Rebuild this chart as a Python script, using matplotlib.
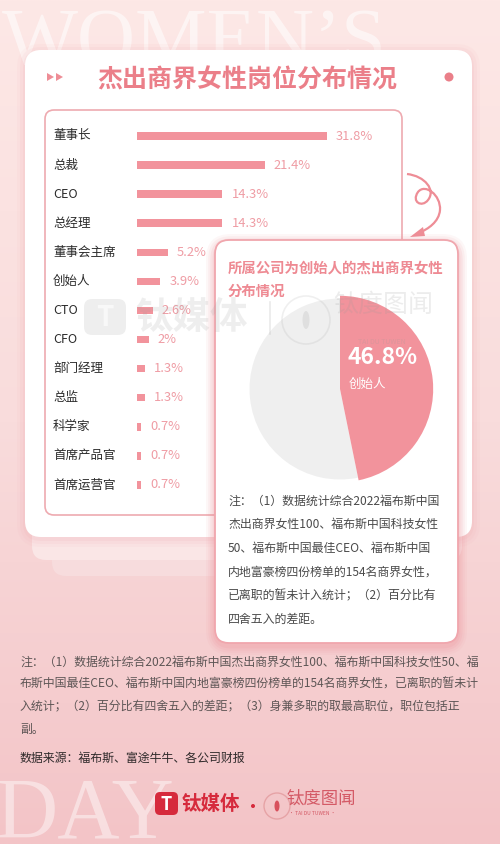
import numpy as np
import matplotlib
matplotlib.use("Agg")
import matplotlib.pyplot as plt
from matplotlib.patches import FancyBboxPatch, Polygon, Circle, Ellipse, PathPatch
from matplotlib.path import Path
from matplotlib.colors import to_rgb
import matplotlib.transforms as mtrans

plt.rcParams['font.family'] = ['Noto Sans CJK SC', 'DejaVu Sans']

# ---------------- data ----------------
title = "杰出商界女性岗位分布情况"
categories = ["董事长", "总裁", "CEO", "总经理", "董事会主席", "创始人", "CTO", "CFO",
              "部门经理", "总监", "科学家", "首席产品官", "首席运营官"]
shares = [31.8, 21.4, 14.3, 14.3, 5.2, 3.9, 2.6, 2.0, 1.3, 1.3, 0.7, 0.7, 0.7]

pie_title = ["所属公司为创始人的杰出商界女性", "分布情况"]
pie_labels = ["创始人", "其他"]
pie_values = [46.8, 53.2]

pie_note = ["注：（1）数据统计综合2022福布斯中国",
            "杰出商界女性100、福布斯中国科技女性",
            "50、福布斯中国最佳CEO、福布斯中国",
            "内地富豪榜四份榜单的154名商界女性，",
            "已离职的暂未计入统计；（2）百分比有",
            "四舍五入的差距。"]
bottom_note = ["注：（1）数据统计综合2022福布斯中国杰出商界女性100、福布斯中国科技女性50、福",
               "布斯中国最佳CEO、福布斯中国内地富豪榜四份榜单的154名商界女性，已离职的暂未计",
               "入统计；（2）百分比有四舍五入的差距；（3）身兼多职的取最高职位，职位包括正",
               "副。"]
source = "数据来源：福布斯、富途牛牛、各公司财报"

# ---------------- colours ----------------
PINK = "#f2939c"
PINK_TXT = "#ef9ca4"
TITLE_PINK = "#eb7f89"
BORDER = "#eeaab0"

W, H = 500, 844
fig = plt.figure(figsize=(W / 100, H / 100), dpi=100)

def fax(left, top, width, height, z):
    a = fig.add_axes([left / W, (H - top - height) / H, width / W, height / H])
    a.set_zorder(z)
    return a

# ---------------- background axes ----------------
bg = fig.add_axes([0, 0, 1, 1])
bg.set_zorder(0)
bg.set_xlim(0, W)
bg.set_ylim(H, 0)
bg.axis("off")

top_c = np.array(to_rgb("#fde8e6"))
mid_c = np.array(to_rgb("#f9dcdc"))
bot_c = np.array(to_rgb("#f3c4c7"))
t = np.linspace(0, 1, 400)[:, None]
grad = np.where(t < 0.5, top_c + (mid_c - top_c) * (t / 0.5), mid_c + (bot_c - mid_c) * ((t - 0.5) / 0.5))
grad = np.repeat(grad[:, None, :], 2, axis=1)
bg.imshow(grad, extent=(0, W, H, 0), origin="upper", aspect="auto", zorder=0)

bg.text(2, 64, "WOMEN\u2019S", fontsize=58, family="Liberation Serif", color="white",
        alpha=0.55, ha="left", va="baseline", zorder=1)
bg.text(-4, 838, "DAY", fontsize=62, family="Liberation Serif", color="white",
        alpha=0.45, ha="left", va="baseline", zorder=1)

def rbox(ax, x, y, w, h, r, fc, ec="none", lw=0, z=2, alpha=1.0):
    p = FancyBboxPatch((x, y), w, h, boxstyle=f"round,pad=0,rounding_size={r}",
                       fc=fc, ec=ec, lw=lw, zorder=z, alpha=alpha)
    ax.add_patch(p)
    return p

# stacked cards behind main card
rbox(bg, 52, 480, 400, 96, 14, "#f7dcdd", z=2)
rbox(bg, 32, 470, 430, 90, 14, "#fae6e6", z=2.2)
# shadow of main card
for i, a in enumerate([0.06, 0.08, 0.10]):
    d = 8 - 3 * i
    rbox(bg, 25 - d, 50 - d + 2, 447 + 2 * d, 487 + 2 * d, 16 + d, "#ee9ea6", z=2.4, alpha=a)
rbox(bg, 25, 50, 447, 487, 16, "white", z=3)

# title decorations
for x0 in (47, 56):
    bg.add_patch(Polygon([[x0, 73], [x0, 81], [x0 + 7, 77]], closed=True, fc="#ee8d96", ec="none", zorder=4))
bg.add_patch(Circle((449, 77), 4.5, fc="#ea7f89", ec="none", zorder=4))
bg.text(247, 80, title, fontsize=18, fontweight="bold", color=TITLE_PINK, ha="center", va="center", zorder=4)

# inner box
rbox(bg, 45, 110, 357, 405, 9, "white", ec=BORDER, lw=1.2, z=3.5)

# curly arrow
verts = [(407, 174),
         (425, 176), (436, 190), (428, 200),
         (422, 208), (411, 202), (418, 192),
         (425, 183), (441, 195), (440, 210),
         (439, 222), (428, 229), (419, 233)]
codes = [Path.MOVETO] + [Path.CURVE4] * 12
bg.add_patch(PathPatch(Path(verts, codes), fc="none", ec="#ee8d96", lw=1.6, zorder=4))
bg.add_patch(Polygon([[410, 237], [423, 227], [425, 236]], closed=True, fc="#ee8d96", ec="none", zorder=4))

# ---------------- bar chart ----------------
px_per = (327 - 137) / 31.8
row0, step = 136, 29.08
n = len(categories)
axb = fax(137, row0 - step / 2, 40 * px_per, step * n, 1)
axb.patch.set_alpha(0)
y = np.arange(n)
axb.barh(y, shares, height=7.5 / step, color=PINK, edgecolor="none")
axb.set_xlim(0, 40)
axb.set_ylim(n - 0.5, -0.5)
axb.axis("off")
tr = mtrans.blended_transform_factory(fig.transFigure, axb.transData)
for i, (c, v) in enumerate(zip(categories, shares)):
    axb.text(53 / W, i, c, transform=tr, fontsize=9, color="#2b2b2b", ha="left", va="center")
    axb.text(v + 1.5, i, f"{v:g}%", fontsize=9.3, color=PINK_TXT, ha="left", va="center")

# ---------------- overlay: pie card ----------------
ov = fig.add_axes([0, 0, 1, 1])
ov.set_zorder(2)
ov.patch.set_alpha(0)
ov.set_xlim(0, W)
ov.set_ylim(H, 0)
ov.axis("off")

for i, a in enumerate([0.07, 0.09, 0.12, 0.15]):
    d = 9 - 2.2 * i
    rbox(ov, 215 - d, 240 - d + 3, 243 + 2 * d, 403 + 2 * d, 16 + d, "#ec8f98", z=1, alpha=a)
rbox(ov, 215, 240, 243, 403, 14, "white", ec="#f0a6ad", lw=1.3, z=2)

ov.text(228, 269, pie_title[0], fontsize=10.4, fontweight="bold", color="#ee8a93", ha="left", va="center", zorder=3)
ov.text(228, 292, pie_title[1], fontsize=10.4, fontweight="bold", color="#ee8a93", ha="left", va="center", zorder=3)
for i, line in enumerate(pie_note):
    ov.text(228, 501 + 23.6 * i, line, fontsize=8.6, color="#4a4a4a", ha="left", va="center", zorder=3)

# ---------------- pie ----------------
R = 95
axp = fax(340 - R, 389 - R, 2 * R, 2 * R, 3)
axp.patch.set_alpha(0)
wedges, _ = axp.pie(pie_values, colors=[PINK, "#efefef"], startangle=90, counterclock=False,
                    radius=1.0, wedgeprops=dict(edgecolor="none"))
wedges[0].set_radius(1.03)
wedges[0].set_zorder(3)
axp.set_xlim(-1.05, 1.05)
axp.set_ylim(-1.05, 1.05)
axp.set_aspect("equal")
axp.axis("off")

# ---------------- top overlay: texts, watermark, footer ----------------
top = fig.add_axes([0, 0, 1, 1])
top.set_zorder(4)
top.patch.set_alpha(0)
top.set_xlim(0, W)
top.set_ylim(H, 0)
top.axis("off")

top.text(348, 358, f"{pie_values[0]:g}%", fontsize=16.5, fontweight="bold", color="white", ha="left", va="center")
top.text(349, 384, pie_labels[0], fontsize=9, color="white", ha="left", va="center")

# watermark
wm = "#9a9a9a"
rbox(top, 84, 299, 42, 36, 8, wm, z=5, alpha=0.16)
top.text(105, 318, "T", fontsize=20, fontweight="bold", style="italic", color="white", alpha=0.6, ha="center", va="center", zorder=6)
top.text(135, 318, "钛媒体", fontsize=27, fontweight="bold", color=wm, alpha=0.16, ha="left", va="center", zorder=5)
top.plot([270, 270], [302, 334], color=wm, alpha=0.2, lw=1.2, zorder=5)
top.add_patch(Circle((306, 320), 24, fc="none", ec=wm, alpha=0.15, lw=1.2, zorder=5))
top.add_patch(Ellipse((306, 320), 7, 18, fc=wm, alpha=0.18, zorder=5))
top.text(333, 305, "钛度图闻", fontsize=18, color=wm, alpha=0.18, ha="left", va="center", zorder=5)
top.text(382, 342, "TAI DU TUWEN", fontsize=5, color=wm, alpha=0.25, ha="center", va="center", zorder=5)

# bottom notes
for i, line in enumerate(bottom_note):
    top.text(20, 662 + 22.4 * i, line, fontsize=8.6, color="#5e5656", ha="left", va="center")
top.text(20, 758, source, fontsize=8.6, color="#2f2a2a", ha="left", va="center")

# footer logos
rbox(top, 155, 792, 23, 23, 5, "#d62a3c", z=5)
top.text(166.5, 804, "T", fontsize=13, fontweight="bold", style="italic", color="white", ha="center", va="center", zorder=6)
top.text(182, 804, "钛媒体", fontsize=14, fontweight="bold", color="#d62a3c", ha="left", va="center", zorder=5)
top.add_patch(Circle((253, 806), 2, fc="#d62a3c", ec="none", zorder=5))
top.add_patch(Circle((277, 806), 13, fc="none", ec="#e6a3a6", lw=1, zorder=5))
top.add_patch(Ellipse((277, 806), 5, 11, fc="#d8505c", ec="none", zorder=5))
top.text(286, 799, "钛度图闻", fontsize=12.5, color="#d45a66", ha="left", va="center", zorder=5)
top.text(312, 813.5, "• TAI DU TUWEN •", fontsize=3.6, color="#d45a66", ha="center", va="center", zorder=5)

fig.savefig("out.png", dpi=100)
